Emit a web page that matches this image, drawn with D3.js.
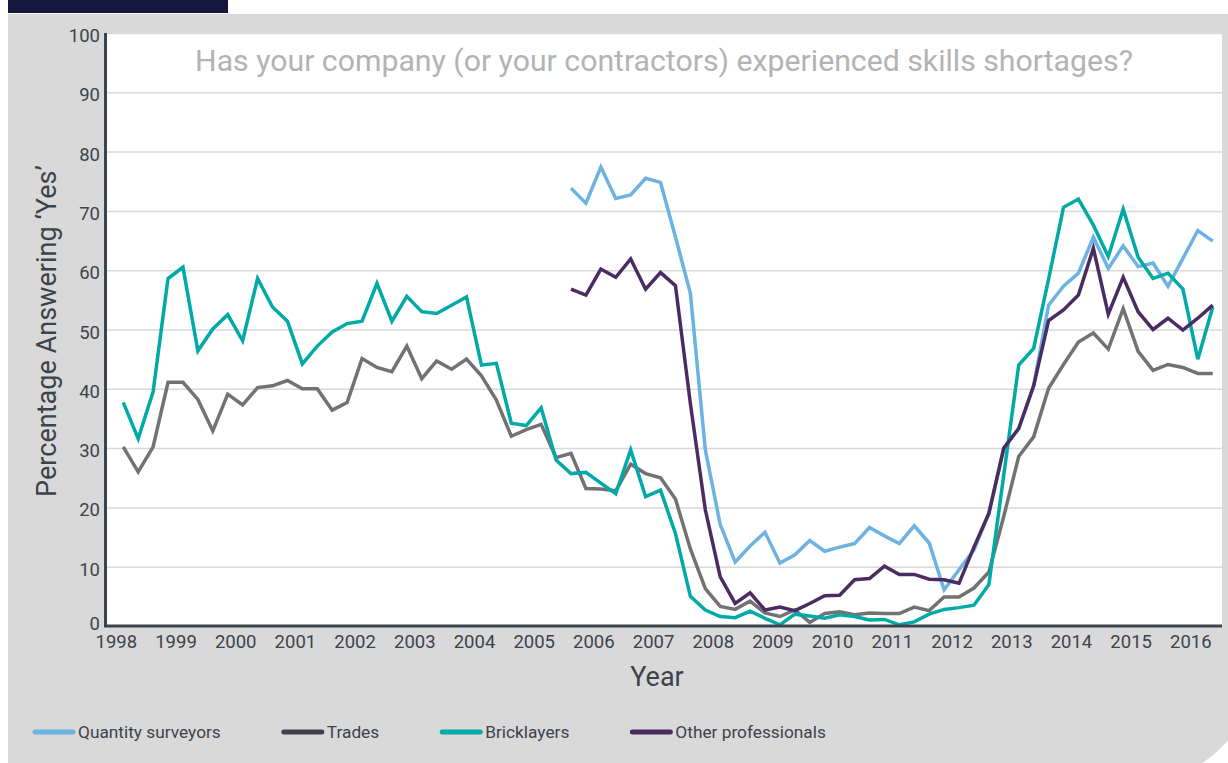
<!DOCTYPE html>
<html>
<head>
<meta charset="utf-8">
<script src="https://cdn.jsdelivr.net/npm/d3@7"></script>
<style>
  body { margin: 0; background: #fff; }
  svg { display: block; font-family: Roboto, "Noto Sans", sans-serif; }
</style>
</head>
<body>
<div id="chart"></div>
<script>
// quarterly survey results, 1998 Q1 .. 2016 Q2
var years = [1998, 1999, 2000, 2001, 2002, 2003, 2004, 2005, 2006, 2007,
             2008, 2009, 2010, 2011, 2012, 2013, 2014, 2015, 2016];
var quarterNames = ["Q1", "Q2", "Q3", "Q4"];
var lastQuarter = "2016 Q2";
var yTicks = [0, 10, 20, 30, 40, 50, 60, 70, 80, 90, 100];

var seriesNames = ["Quantity surveyors", "Trades", "Bricklayers", "Other professionals"];

// these two start in 2005 Q3
var qsStart = "2005 Q3";
var quantitySurveyors = [73.8, 71.3, 77.4, 72.1, 72.7, 75.5, 74.8, 65.6, 56.1, 29.7,
    17.1, 10.8, 13.5, 15.8, 10.6, 12.0, 14.4, 12.6, 13.3, 13.9,
    16.6, 15.2, 13.9, 16.9, 14.0, 6.1, 9.5, 12.8, 19.0, 30.0,
    33.3, 40.5, 54.1, 57.3, 59.5, 65.6, 60.3, 64.1, 60.6, 61.2,
    57.3, 62.0, 66.7, 64.9];

var trades = [30.2, 26.0, 30.2, 41.1, 41.1, 38.2, 32.9, 39.1, 37.3, 40.2,
    40.5, 41.4, 40.0, 40.0, 36.4, 37.7, 45.1, 43.6, 42.9, 47.2,
    41.7, 44.7, 43.3, 45.0, 42.2, 38.1, 32.0, 33.1, 34.0, 28.4,
    29.1, 23.2, 23.1, 22.8, 27.3, 25.7, 25.0, 21.4, 13.0, 6.3,
    3.3, 2.8, 4.2, 2.2, 1.6, 2.7, 0.6, 2.1, 2.4, 1.9,
    2.2, 2.1, 2.1, 3.2, 2.6, 4.9, 4.9, 6.4, 9.1, 18.5,
    28.6, 31.9, 40.1, 44.1, 47.9, 49.4, 46.7, 53.5, 46.3, 43.1,
    44.1, 43.6, 42.6, 42.6];

var bricklayers = [37.7, 31.6, 39.5, 58.6, 60.5, 46.4, 50.1, 52.5, 48.1, 58.6,
    53.8, 51.4, 44.2, 47.2, 49.6, 51.0, 51.4, 57.8, 51.4, 55.6,
    53.0, 52.7, 54.1, 55.5, 44.0, 44.3, 34.2, 33.8, 36.8, 28.0,
    25.7, 25.9, 24.1, 22.3, 29.7, 21.8, 22.9, 15.6, 5.0, 2.7,
    1.6, 1.4, 2.5, 1.3, 0.2, 2.0, 1.7, 1.3, 1.9, 1.6,
    1.0, 1.1, 0.2, 0.7, 2.0, 2.8, 3.1, 3.5, 7.0, 25.5,
    44.0, 46.8, 58.5, 70.6, 72.0, 67.6, 62.3, 70.3, 62.2, 58.6,
    59.5, 56.8, 45.0, 53.8];

var otherProfessionals = [56.8, 55.8, 60.2, 58.8, 61.9, 56.8, 59.6, 57.4, 37.5, 19.6,
    8.3, 3.8, 5.6, 2.7, 3.2, 2.6, 3.8, 5.1, 5.2, 7.8,
    8.0, 10.1, 8.7, 8.7, 7.9, 7.8, 7.2, 13.3, 19.0, 30.0,
    33.3, 40.5, 51.5, 53.3, 55.8, 63.7, 52.6, 58.8, 53.0, 50.0,
    51.9, 49.9, 51.9, 54.1];

// build the quarter list: label + mid-quarter position in years
var quarters = [];
years.forEach(function (yr) {
    quarterNames.forEach(function (q, i) {
        if (quarters.length && quarters[quarters.length - 1].label == lastQuarter) return;
        quarters.push({label: yr + " " + q, t: yr + i / 4 + 0.125});
    });
});
function indexOf(label) {
    return quarters.findIndex(function (d) { return d.label == label; });
}
function toPoints(values, startLabel) {
    var s = startLabel ? indexOf(startLabel) : 0;
    return values.map(function (v, i) { return {t: quarters[s + i].t, v: v}; });
}

var series = [
    {name: seriesNames[0], color: "#6cb2e2", key: "#6cb2e2", data: toPoints(quantitySurveyors, qsStart)},
    {name: seriesNames[1], color: "#727275", key: "#3d434b", data: toPoints(trades)},
    {name: seriesNames[2], color: "#00aaa6", key: "#00aaa6", data: toPoints(bricklayers)},
    {name: seriesNames[3], color: "#4b2c62", key: "#4b2c62", data: toPoints(otherProfessionals, qsStart)}
];

// layout
var W = 1228, H = 763;
var plot = {left: 106, right: 1222, top: 33, bottom: 626};
var textColor = "#3d434b";

var svg = d3.select("#chart").append("svg")
    .attr("width", W)
    .attr("height", H);

// dark tab and grey panel with rounded bottom-right corner
svg.append("rect")
    .attr("x", 8).attr("y", 0).attr("width", 220).attr("height", 13)
    .attr("fill", "#15173f");
svg.append("path")
    .attr("d", "M8,14 H1258 V660 A123,123 0 0 1 1135,783 H8 Z")
    .attr("fill", "#d9d9d9");
svg.append("rect")
    .attr("x", plot.left).attr("y", plot.top)
    .attr("width", plot.right - plot.left).attr("height", plot.bottom - plot.top)
    .attr("fill", "#fff");

// scales
var x = d3.scaleLinear().domain([1997.836, 2016.53]).range([plot.left, plot.right]);
var y = d3.scaleLinear().domain([0, 100]).range([plot.bottom, plot.top]);

// gridlines
svg.append("g")
    .attr("transform", "translate(" + plot.left + ",0)")
    .call(d3.axisLeft(y).tickValues(yTicks.slice(1)).tickSize(-(plot.right - plot.left)).tickFormat(""))
    .call(function (g) {
        g.select(".domain").remove();
        g.selectAll("line").attr("stroke", "#d9d9d9").attr("stroke-width", 1.5);
    });

// y axis labels
svg.append("g")
    .attr("transform", "translate(" + plot.left + ",0)")
    .call(d3.axisLeft(y).tickValues(yTicks).tickSize(0).tickPadding(6))
    .call(function (g) {
        g.select(".domain").remove();
        g.selectAll("text")
            .attr("dy", function (d) { return d == 0 ? "0.2em" : "0.46em"; })
            .attr("fill", textColor)
            .style("font-size", "18.5px")
            .style("font-family", "Roboto");
    });

// x axis labels
svg.append("g")
    .attr("transform", "translate(0," + plot.bottom + ")")
    .call(d3.axisBottom(x).tickValues(years).tickFormat(d3.format("d")).tickSize(0).tickPadding(9))
    .call(function (g) {
        g.select(".domain").remove();
        g.selectAll("text")
            .attr("fill", textColor)
            .style("font-size", "18.5px")
            .style("font-family", "Roboto");
    });

// the lines
var line = d3.line()
    .x(function (d) { return x(d.t); })
    .y(function (d) { return y(d.v); });

series.forEach(function (s) {
    svg.append("path")
        .datum(s.data)
        .attr("fill", "none")
        .attr("stroke", s.color)
        .attr("stroke-width", 3.5)
        .attr("stroke-linejoin", "miter")
        .attr("d", line);
});

// axis lines
svg.append("line")
    .attr("x1", plot.left - 0.5).attr("x2", plot.left - 0.5)
    .attr("y1", plot.top).attr("y2", plot.bottom + 1)
    .attr("stroke", "#3d434b").attr("stroke-width", 3);
svg.append("line")
    .attr("x1", plot.left - 2).attr("x2", plot.right)
    .attr("y1", plot.bottom).attr("y2", plot.bottom)
    .attr("stroke", "#3d434b").attr("stroke-width", 3);

// shrink or grow a text's font so it spans the given width
function fitText(sel, size, width) {
    sel.style("font-size", size + "px");
    var len = sel.node().getComputedTextLength();
    sel.style("font-size", (size * width / len).toFixed(2) + "px");
}

// title
var title = svg.append("text")
    .attr("x", (plot.left + plot.right) / 2)
    .attr("y", 71)
    .attr("text-anchor", "middle")
    .attr("fill", "#b3b3b3")
    .text("Has your company (or your contractors) experienced skills shortages?");
fitText(title, 28, 938);

// axis titles
var yTitle = svg.append("text")
    .attr("text-anchor", "middle")
    .attr("transform", "translate(56,331)rotate(-90)")
    .attr("fill", textColor)
    .text("Percentage Answering \u2018Yes\u2019");
fitText(yTitle, 26, 332);

svg.append("text")
    .attr("x", 657)
    .attr("y", 686)
    .attr("text-anchor", "middle")
    .attr("fill", textColor)
    .style("font-size", "27px")
    .text("Year");

// legend
var lx = 33, ly = 732;
series.forEach(function (s) {
    svg.append("line")
        .attr("x1", lx + 2).attr("x2", lx + 40)
        .attr("y1", ly).attr("y2", ly)
        .attr("stroke", s.key)
        .attr("stroke-width", 5)
        .attr("stroke-linecap", "round");
    var t = svg.append("text")
        .attr("x", lx + 45)
        .attr("y", ly + 6)
        .attr("fill", textColor)
        .style("font-size", "17.3px")
        .text(s.name);
    lx = lx + 45 + t.node().getComputedTextLength() + 61;
});
</script>
</body>
</html>
